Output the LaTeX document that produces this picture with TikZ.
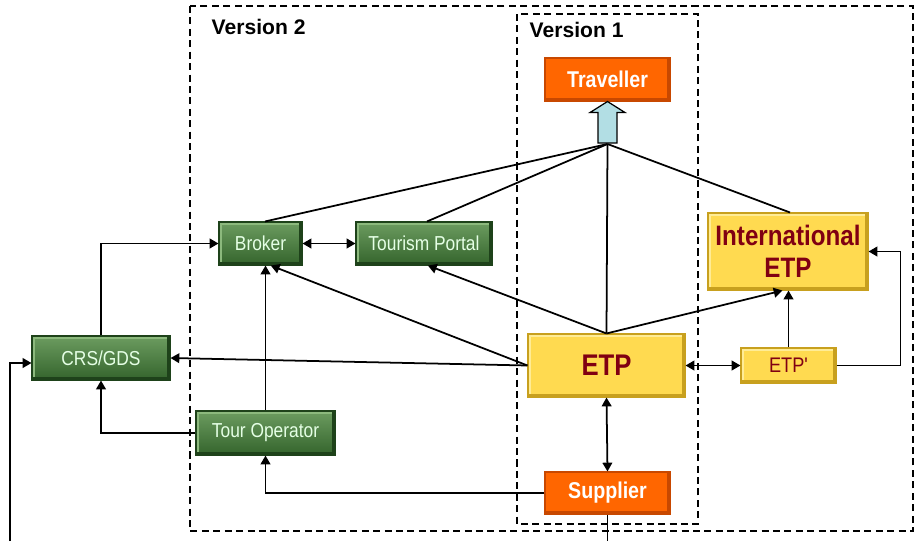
\documentclass[tikz,border=0pt]{standalone}
\usepackage{fontspec}
\setmainfont{Liberation Sans}
\newfontfamily\narrowsans[FakeStretch=0.86]{Liberation Sans}
\usepackage{tikz}
\usetikzlibrary{arrows.meta,shapes,positioning,calc}

\definecolor{boxgreen}{RGB}{52,100,44}
\definecolor{boxgreenlight}{RGB}{108,156,96}
\definecolor{boxgreenedge}{RGB}{30,66,26}
\definecolor{boxgreenhi}{RGB}{140,185,125}
\definecolor{boxorange}{RGB}{255,102,0}
\definecolor{boxorangeedge}{RGB}{200,72,0}
\definecolor{boxyellow}{RGB}{255,218,80}
\definecolor{boxyellowedge}{RGB}{200,160,30}
\definecolor{boxyellowhi}{RGB}{255,236,150}
\definecolor{etpred}{RGB}{128,0,18}
\definecolor{arrowblue}{RGB}{178,222,228}

\begin{document}
\begin{tikzpicture}[>={Triangle[length=5pt,width=5.5pt]}, line width=1pt]

	\tikzset{
	bevel/.style 2 args={path picture={
		\draw[#1, line width=3pt] (path picture bounding box.south west) -- (path picture bounding box.north west) -- (path picture bounding box.north east);
		\draw[#2, line width=3pt] (path picture bounding box.south west) -- (path picture bounding box.south east) -- (path picture bounding box.north east);}},
	greenbox/.style={draw=boxgreenedge, line width=0.6pt, top color=boxgreenlight, bottom color=boxgreen, bevel={boxgreenhi}{boxgreenedge}, text=white!90!green, font=\narrowsans\fontsize{11.5}{13}\selectfont},
	orangebox/.style={draw=boxorangeedge, line width=0.6pt, fill=boxorange, bevel={boxorange}{boxorangeedge}, text=white, font=\narrowsans\bfseries\fontsize{13}{15}\selectfont},
	yellowbox/.style={draw=boxyellowedge, line width=0.6pt, fill=boxyellow, bevel={boxyellowhi}{boxyellowedge}, text=etpred, align=center},
	versionbox/.style={draw, dashed, dash pattern=on 4pt off 2.5pt, line width=0.8pt},
	versionlabel/.style={anchor=west, font=\bfseries\fontsize{12}{14}\selectfont}
	}

	\useasboundingbox (0,0) rectangle (18.3,-10.82);

	% Version frames
	\draw[versionbox] (3.8,-0.12) rectangle (18.26,-10.62);
	\draw[versionbox] (10.34,-0.28) rectangle (13.96,-10.48);
	\node[versionlabel] (v2) at (4.1,-0.54) {Version 2};
	\node[versionlabel] (v1) at (10.46,-0.6) {Version 1};

	% Nodes
	\node[orangebox, minimum width=2.5cm, minimum height=0.86cm] (traveller) at (12.15,-1.59) {Traveller};
	\node[greenbox, minimum width=1.66cm, minimum height=0.86cm] (broker) at (5.21,-4.87) {Broker};
	\node[greenbox, minimum width=2.72cm, minimum height=0.86cm] (portal) at (8.48,-4.87) {Tourism Portal};
	\node[yellowbox, minimum width=3.2cm, minimum height=1.54cm, font=\narrowsans\bfseries\fontsize{16}{18}\selectfont] (intl) at (15.76,-5.03) {International\\ETP};
	\node[greenbox, minimum width=2.76cm, minimum height=0.88cm] (crs) at (2.02,-7.16) {CRS/GDS};
	\node[yellowbox, minimum width=3.14cm, minimum height=1.26cm, font=\narrowsans\bfseries\fontsize{17}{20}\selectfont] (etp) at (12.13,-7.31) {ETP};
	\node[yellowbox, minimum width=1.9cm, minimum height=0.7cm, font=\narrowsans\fontsize{12}{14}\selectfont] (etpp) at (15.77,-7.31) {ETP'};
	\node[greenbox, minimum width=2.78cm, minimum height=0.88cm] (tour) at (5.31,-8.66) {Tour Operator};
	\node[orangebox, minimum width=2.5cm, minimum height=0.84cm] (supplier) at (12.15,-9.86) {Supplier};

	\coordinate (hub) at (12.15,-2.88);
	\coordinate (inlet) at (0.2,-10.82);
	\coordinate (outlet) at (12.15,-10.82);

	% Block arrow up to the traveller
	\draw[fill=arrowblue, line width=0.7pt] ($(hub)+(-0.19,0.02)$) -- ($(traveller.south)+(-0.19,-0.22)$) -- ($(traveller.south)+(-0.35,-0.22)$) -- (traveller.south) -- ($(traveller.south)+(0.35,-0.22)$) -- ($(traveller.south)+(0.19,-0.22)$) -- ($(hub)+(0.19,0.02)$) -- cycle;

	% Lines to the hub
	\draw (hub) -- ($(broker.north)+(0.09,0)$);
	\draw (hub) -- ($(portal.north)+(0.06,0)$);
	\draw (hub) -- (etp.north);
	\draw (hub) -- ($(intl.north)+(0.04,0)$);

	% Lines
	\draw[<->] (broker) -- (portal);
	\draw[->] (etp.north) -- (portal.-80);
	\draw[->] (etp.north) -- (intl.-98);
	\draw[->] (etp.west) -- (broker.-65);
	\draw[->] (etp.west) -- (crs.east);
	\draw[<->] (etp.east) -- (etpp.west);
	\draw[<->] (etp.south) -- (supplier.north);
	\draw[->] (etpp.north) -- (etpp.north |- intl.south);
	\draw[->] (etpp.east) -- ++(1.28,0) |- (intl.east);
	\draw[->] (crs.north) |- (broker.west);
	\draw[->] (tour.north) -- (tour.north |- broker.south);
	\draw[->] (tour.west) -| (crs.south);
	\draw[->] (supplier.west) -| (tour.south);
	\draw[->] (inlet) |- ($(crs.west)+(0,-0.1)$);
	\draw (supplier.south) -- (outlet);

\end{tikzpicture}
\end{document}
